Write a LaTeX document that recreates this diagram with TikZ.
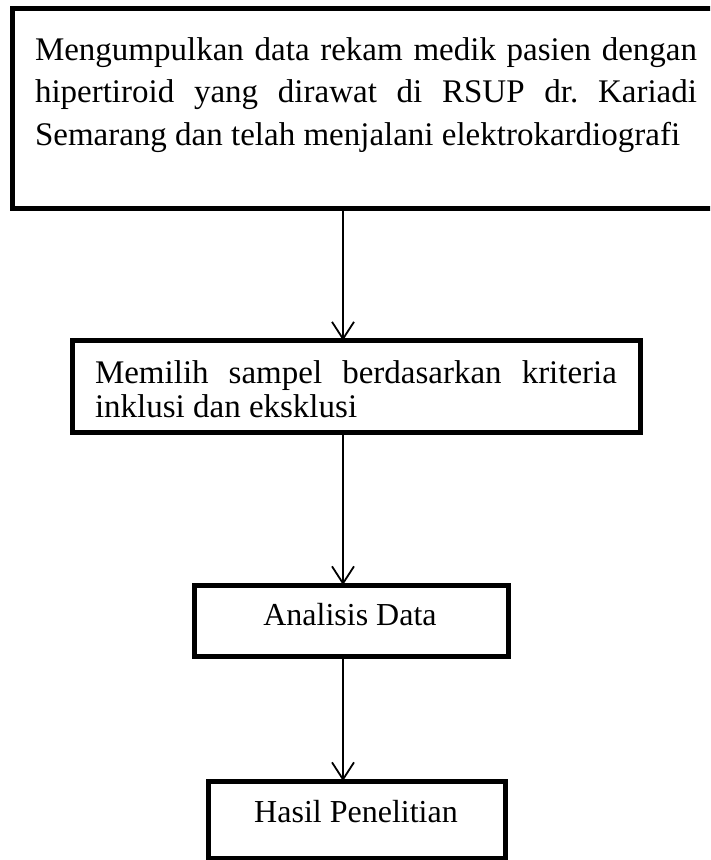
\documentclass[tikz,border=0pt]{standalone}
\usepackage{fontspec}
\setmainfont{Liberation Serif}
\usetikzlibrary{arrows.meta}
\frenchspacing
\hyphenpenalty=10000
\exhyphenpenalty=10000
\begin{document}
\begin{tikzpicture}[x=1pt,y=-1pt,
  box/.style={draw=black,line width=5pt,line join=miter},
  conn/.style={draw=black,line width=1.8pt,-{Straight Barb[length=17pt,width=22pt,line width=1.8pt]}},
  txt/.style={inner sep=0pt,outer sep=0pt,font=\fontsize{33}{42.5}\selectfont}]
\useasboundingbox (0,0) rectangle (710,860);
\clip (0,0) rectangle (710,860);
\fill[white] (0,0) rectangle (710,860);
% boxes
\path[box] (12,8) rectangle (720,208);
\coordinate (b1b) at (343,208);
\path[box] (72.5,340.5) rectangle (640,432);
\coordinate (b2t) at (343,340.5);
\coordinate (b2b) at (343,432);
\path[box] (194,585) rectangle (508,656);
\coordinate (b3t) at (343,585);
\coordinate (b3b) at (343,656);
\path[box] (208,781) rectangle (505,858);
\coordinate (b4t) at (343,781);
% texts
\node[txt,text width=662pt,align=justify,anchor=base west] (t1) at (35,60)
  {Mengumpulkan data rekam medik pasien dengan hipertiroid yang dirawat di RSUP dr. Kariadi Semarang dan telah menjalani elektrokardiografi};
\node[txt,font=\fontsize{33}{34}\selectfont,text width=522pt,align=justify,anchor=base west] (t2) at (95,383)
  {Memilih sampel berdasarkan kriteria inklusi dan eksklusi};
\node[txt,font=\fontsize{32}{34}\selectfont,anchor=base] (t3) at (350,625) {Analisis Data};
\node[txt,font=\fontsize{32}{34}\selectfont,anchor=base] (t4) at (356,822) {Hasil Penelitian};
% connectors
\draw[conn] (b1b) -- (b2t);
\draw[conn] (b2b) -- (b3t);
\draw[conn] (b3b) -- (b4t);
\end{tikzpicture}
\end{document}
